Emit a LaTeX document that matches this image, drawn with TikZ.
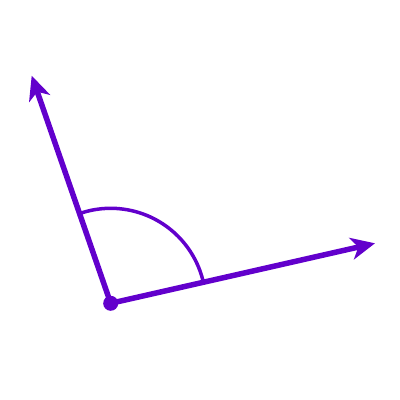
\documentclass[tikz,border=0pt]{standalone}
\usetikzlibrary{arrows.meta}
\definecolor{anglepurple}{RGB}{98,0,204}

\begin{document}
\begin{tikzpicture}[x=1pt, y=1pt,
every node/.style={inner sep=0pt},
ray/.style={line width=5.5pt, anglepurple, -{Stealth[length=24pt,width=22pt,inset=7pt]}},
anglemark/.style={line width=3.5pt, anglepurple}
]
\useasboundingbox (0,0) rectangle (400,400);
\node[circle, fill=anglepurple, minimum size=15pt] (o) at (110.7,96.7) {};
\coordinate (a) at (31.7,324.3);
\coordinate (b) at (375,156.7);

\foreach \p in {a,b}
    \draw [ray] (o.center) -- (\p);
\draw [anglemark] (o.center) ++(12.8:95) arc[start angle=12.8, end angle=109.1, radius=95];
\end{tikzpicture}
\end{document}
